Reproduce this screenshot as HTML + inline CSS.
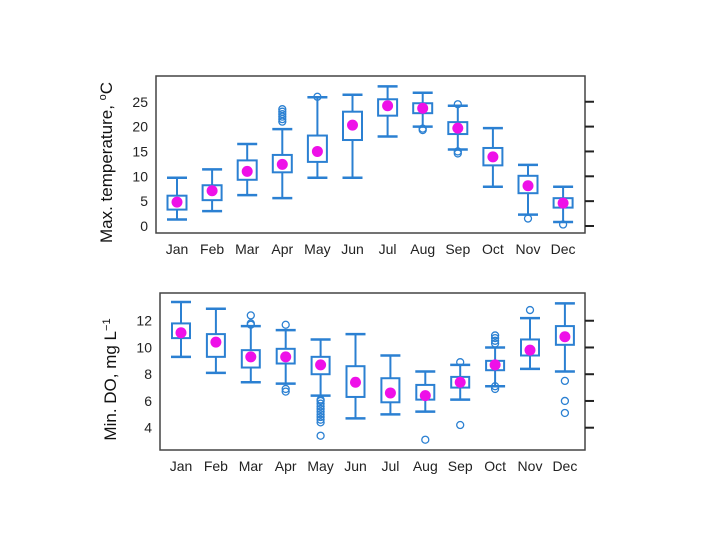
<!DOCTYPE html>
<html><head><meta charset="utf-8"><style>
body{margin:0;background:#fff}
svg{display:block;font-family:"Liberation Sans",sans-serif}
</style></head><body>
<svg id="c" width="720" height="540"></svg>
<script>
const months=["Jan","Feb","Mar","Apr","May","Jun","Jul","Aug","Sep","Oct","Nov","Dec"];
const tLo=[1.3,3,6.2,5.6,9.7,9.7,18,20,15.4,7.9,2.3,0.8];
const tQ1=[3.3,5.2,9.3,10.8,12.9,17.3,22.2,22.7,18.5,12.2,6.6,3.7];
const tQ3=[6.1,8.2,13.2,14.3,18.2,23,25.5,24.7,20.9,15.7,10.1,5.6];
const tHi=[9.7,11.4,16.5,19.5,25.9,26.4,28.1,26.8,24.2,19.7,12.3,7.9];
const tMean=[4.8,7.1,11,12.4,15,20.3,24.2,23.7,19.7,13.9,8.1,4.6];
const tOut=[[],[],[],[21,21.5,22,22.5,23,23.5],[26],[],[],[19.3,19.6],[14.6,15,24.5],[],[1.5],[0.3]];
const tTicks=[0,5,10,15,20,25];
const dLo=[9.3,8.1,7.4,7.3,6.4,4.7,5,5.2,6.1,7.1,8.4,8.2];
const dQ1=[10.7,9.3,8.5,8.8,8,6.3,5.9,6.1,7,8.3,9.4,10.2];
const dQ3=[11.8,11,9.8,9.9,9.3,8.6,7.7,7.2,7.8,9,10.6,11.6];
const dHi=[13.4,12.9,11.6,11.3,10.6,11,9.4,8.2,8.7,10,12.2,13.3];
const dMean=[11.1,10.4,9.3,9.3,8.7,7.4,6.6,6.4,7.4,8.7,9.8,10.8];
const dOut=[[],[],[11.7,11.8,12.4],[6.7,6.9,11.7],[3.4,4.4,4.6,4.8,5,5.2,5.4,5.6,5.8,6,6.1],[],[],[3.1],[4.2,8.9],[6.9,7.1,10.3,10.5,10.7,10.9],[12.8],[5.1,6,7.5]];
const dTicks=[4,6,8,10,12];
const NS="http://www.w3.org/2000/svg";
const svg=document.getElementById('c');
function mk(t,a,p){const e=document.createElementNS(NS,t);for(const k in a)e.setAttribute(k,a[k]);(p||svg).appendChild(e);return e;}
function panel(cfg){
  const g=mk('g',{});
  
  
  const y=v=>cfg.y0+(v-cfg.v0)*cfg.k;
  const x=i=>cfg.x0+i*cfg.dx;
  const fr=mk('rect',{x:cfg.L,y:cfg.T,width:cfg.R-cfg.L,height:cfg.B-cfg.T,fill:'none',stroke:'#444','stroke-width':1.5},g);
  
  
  cfg.ticks.forEach(t=>{
    const l=mk('line',{x1:cfg.R,x2:cfg.R+9,y1:y(t),y2:y(t),stroke:'#222','stroke-width':2},g);
    
    
    const tx=mk('text',{x:cfg.L-8,y:y(t)+5,'text-anchor':'end','font-size':14,fill:'#222'},g);
    tx.textContent=t;
    
    
  });
  months.forEach((m,i)=>{
    const tx=mk('text',{x:x(i),y:cfg.B+21,'text-anchor':'middle','font-size':14,fill:'#222'},g);
    tx.textContent=m;
    
    
    const c='#2b80d2',cx=x(i),hw=cfg.bw/2,cw=10;
    const bg=mk('g',{stroke:c,'stroke-width':2,fill:'none'},g);
    
    
    mk('line',{x1:cx,x2:cx,y1:y(cfg.hi[i]),y2:y(cfg.q3[i])},bg);
    mk('line',{x1:cx,x2:cx,y1:y(cfg.q1[i]),y2:y(cfg.lo[i])},bg);
    mk('line',{x1:cx-cw,x2:cx+cw,y1:y(cfg.hi[i]),y2:y(cfg.hi[i]),'stroke-width':2.5},bg);
    mk('line',{x1:cx-cw,x2:cx+cw,y1:y(cfg.lo[i]),y2:y(cfg.lo[i]),'stroke-width':2.5},bg);
    mk('rect',{x:cx-hw,y:y(cfg.q3[i]),width:cfg.bw,height:y(cfg.q1[i])-y(cfg.q3[i]),fill:'#fff'},bg);
    cfg.out[i].forEach(o=>{mk('circle',{cx:cx,cy:y(o),r:3.5,'stroke-width':1.3},bg);});
    const d=mk('circle',{cx:cx,cy:y(cfg.mean[i]),r:5.5,fill:'#ee10e8'},g);
    
    
  });
  const t=mk('text',{transform:`translate(${cfg.tx},${(cfg.T+cfg.B)/2+8}) rotate(-90)`,'text-anchor':'middle','font-size':17,fill:'#111'},g);
  t.innerHTML=cfg.title;
  
  
}
panel({name:'max-temperature-panel',L:156,R:585,T:76,B:233,x0:177,dx:35.1,y0:226,v0:0,k:-4.97,bw:19,ticks:tTicks,
  lo:tLo,q1:tQ1,q3:tQ3,hi:tHi,mean:tMean,out:tOut,tx:112,title:'Max. temperature,  <tspan dy="-6" font-size="11">o</tspan><tspan dy="6">C</tspan>'});
panel({name:'min-do-panel',L:160,R:585,T:293,B:450,x0:181,dx:34.9,y0:427.7,v0:4,k:-13.37,bw:18,ticks:dTicks,
  lo:dLo,q1:dQ1,q3:dQ3,hi:dHi,mean:dMean,out:dOut,tx:116,title:'Min. DO,  mg L<tspan dy="-6" font-size="11">−1</tspan>'});
</script>
</body></html>
